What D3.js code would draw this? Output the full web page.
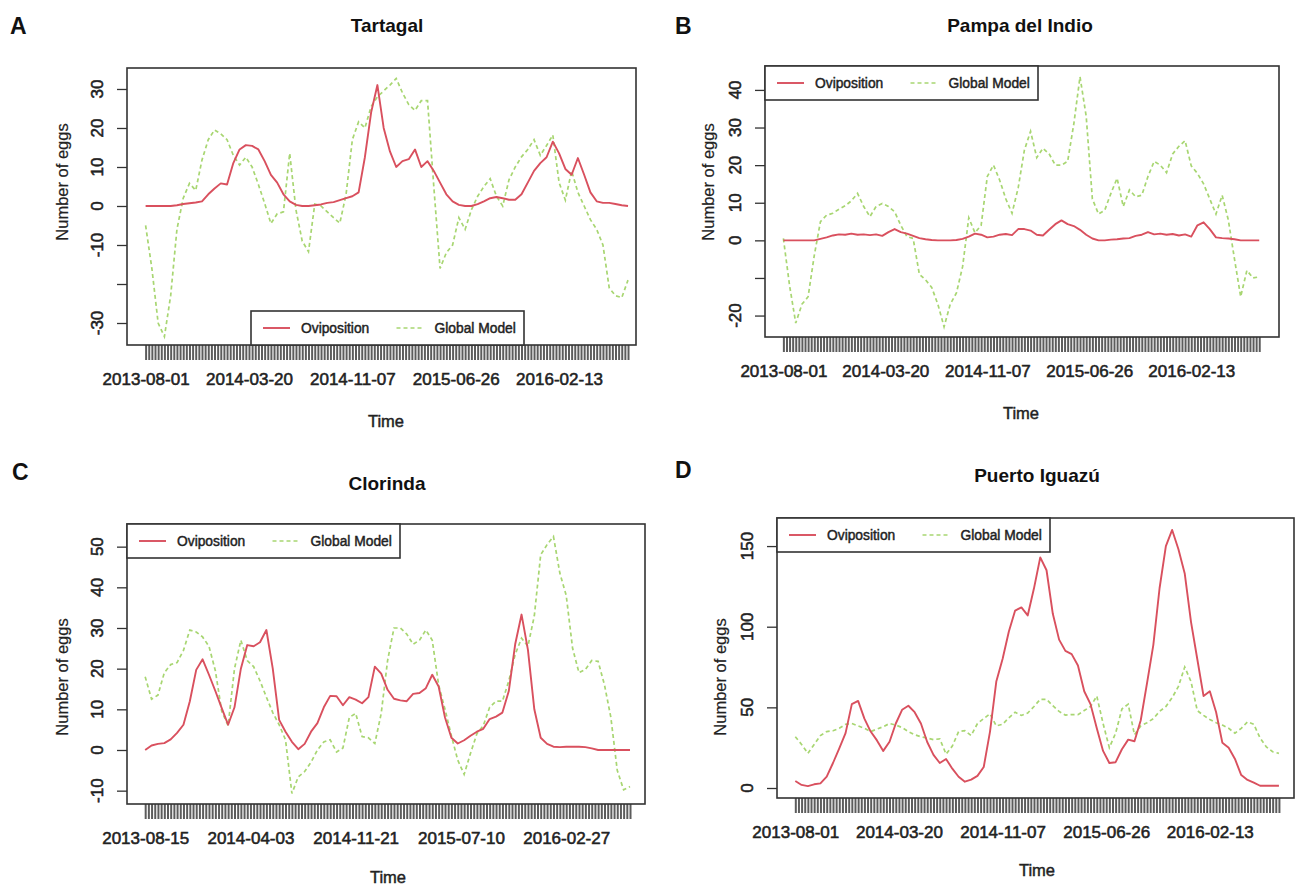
<!DOCTYPE html>
<html><head><meta charset="utf-8">
<script src="https://cdn.jsdelivr.net/npm/d3@7"></script>
<style>
html,body{margin:0;padding:0;background:#fff;}
svg text{font-family:"Liberation Sans",Arial,Helvetica,sans-serif;fill:#222;}
</style>
</head><body>
<svg id="chart" width="1296" height="886"></svg>
<script>
// ---- data (values every 2 weeks, week index = 2*k) ----
const stepWeeks = 2;
const seriesNames = ["Oviposition", "Global Model"];
const ticksAB = ["2013-08-01","2014-03-20","2014-11-07","2015-06-26","2016-02-13"];
const ticksC  = ["2013-08-15","2014-04-03","2014-11-21","2015-07-10","2016-02-27"];
const ticksD  = ["2013-08-01","2014-03-20","2014-11-07","2015-06-26","2016-02-13"];
const tickLabelWeeks = [0, 33, 66, 99, 132];

const tartagalOvi = [0,0,0,0,0,0.2,0.5,0.7,0.9,1.2, 3,4.5,5.8,5.5,11,14.5,15.6,15.4,14.5,11.5,
  8,6,3,1.2,0.3,0,0,0.2,0.4,0.8, 1,1.5,2,2.5,3.5,12.5,24,31,20,14,
  10,11.5,12,14.5,10,11.5,9,6,3,1.2, 0.3,0,0,0.5,1.2,2,2.3,2,1.6,1.6,
  3,6,9,11,12.5,16.5,13.5,9.5,8,12.3, 8,3.5,1.2,0.8,0.8,0.5,0.2,0];
const tartagalGM = [-5,-16,-30,-33.5,-23,-6,2,5.8,4,11.8, 17,19.5,18.5,17,13,10.5,12.5,10,5.5,0.7,
  -4.5,-2,-1.5,13.5,-1,-9,-11.7,0.5,0,-1.5, -3,-4.4,3,17,21.6,20,25.5,28,29.5,31,
  32.7,29,26,24.5,27,27,5,-16,-12,-10, -3,-6,-1,2.5,5,7,2.5,0,6.7,10,
  12.6,14.5,17,13,15.5,18.2,6,1.5,9,3.5, 0,-3.5,-6,-10,-21,-23,-23.5,-19];

const pampaOvi = [0,0,0,0,0,0,0.4,0.8,1.3,1.6, 1.5,1.8,1.5,1.6,1.4,1.6,1.2,2.2,3,2.2,
  1.8,1.2,0.6,0.3,0.1,0,0,0,0.1,0.4, 1,1.8,1.5,0.8,1,1.5,1.7,1.4,3,3,
  2.6,1.5,1.3,2.8,4.3,5.3,4.3,3.8,2.8,1.5, 0.5,0,0,0.2,0.3,0.5,0.6,1.2,1.5,2.2,
  1.6,1.8,1.5,1.7,1.3,1.6,1,4,4.8,3, 0.8,0.6,0.5,0.3,0,0,0,0];
const pampaGM = [0.5,-12,-22,-17,-15,-4,5,6.7,7.2,8.3, 9.2,10.5,12.5,9,6.3,9,9.8,9,7.6,4,
  1,0.5,-9,-10.5,-12.5,-17,-23,-17,-14,-7, 6,2,4,17,20,16,11,7.2,14,24,
  29,22,24.5,23,20,20,21,31,43.5,33, 11,7,8,12.5,16.5,9,13.4,11.6,12,17,
  21,20,18,23,25,26.5,19.8,17.8,15,11, 7,12,5.4,-5,-15,-8,-10,-9.7];

const clorindaOvi = [0,1.1,1.5,1.7,2.6,4.2,6.2,12,19.7,22.3, 18.5,14.5,10.3,6.2,10.5,20,25.8,25.5,26.5,29.5,
  20,7.4,4.5,2,0.2,1.5,4.5,6.6,10.5,13.3, 13.2,11,13,12.4,11.5,13,20.5,18.8,14.8,12.6,
  12.2,12,13.8,14,15.2,18.5,15.6,8,3,1.6, 2.4,3.5,4.5,5.2,7.6,8.2,9.2,14.5,26,33.3,
  24.6,10,3,1.5,0.8,0.7,0.8,0.8,0.8,0.7, 0.4,0,0,0,0,0,0];
const clorindaGM = [18,12.5,13.5,19,21,21.5,24.5,29.5,29,27.8, 25.5,19.5,9.5,6,20,27,22,20.5,17,13,
  9.2,6.2,2.5,-10.7,-6.6,-5.3,-3,0,2,2.5, -0.5,0.5,8,9,3.3,3,1.6,9,22,30,
  30,28.5,26,27,29.5,27,16,10,3.5,-2.5, -6,-0.8,4,6,10.5,12,12,17,23.5,27.5,
  25.5,33,48,50.5,52.5,43.5,38,25,19,19.8, 22,21.8,16,8,-5,-9.8,-9];

const iguazuOvi = [4.3,1.9,1.2,2.3,2.9,7,15.5,24.6,34,52, 54,43,35,29.5,23,28.7,40,48.5,51,47,
  40,28.5,20.5,15.5,18,12,7,3.9,5.2,7.5, 13,35,66,80,97,110,112,107,123.8,143,
  135,108,92,85,83,76,60,52,37,23, 15.5,16,24,30,29,42,65,88.6,124,150,
  160,148,133,103,80,57,60,47,28,25, 18,8,5,3.3,1.4,1.4,1.4,1.4];
const iguazuGM = [31.8,27,21.5,27,32.5,35,35.5,37,39.5,40, 38.5,37,35,36.5,38,40,39,37.5,35,33,
  31.8,31,30,30.5,21,26,35,35.5,32.5,40, 43,46,38.5,39.5,43.5,47,45,46.5,50.5,55,
  55,51,47.5,45.2,45.5,45.5,48,50.5,57,40, 25,34,49,52,33,38.5,40.5,43,47.5,50.5,
  56,63,75,66,48,45,42.5,40.5,39,37, 34,37,41,39.5,31,25.5,22.5,21.5];

const weeksA = 155, weeksB = 155, weeksC = 153, weeksD = 155;
const yTicksA = [-30,-20,-10,0,10,20,30], yHiddenA = [-20];
const yTicksB = [-20,-10,0,10,20,30,40], yHiddenB = [-10];
const yTicksC = [-10,0,10,20,30,40,50], yHiddenC = [];
const yTicksD = [0,50,100,150], yHiddenD = [];

// ---- layout / style ----
const RED = "#d9505e", GREEN = "#a8d672";
const panels = [
  {letter:"A", lx:10, ly:34, title:"Tartagal", tx:387, ty:32,
   box:[127,68,636,345], xd:[-5.94,156.55], yd:[-35.64,35.38],
   ovi:tartagalOvi, gm:tartagalGM, weeks:weeksA, ticks:ticksAB, yt:yTicksA, yh:yHiddenA,
   ylabX:62, ylabY:182, timeX:386, timeY:421, leg:[251,311]},
  {letter:"B", lx:675, ly:34, title:"Pampa del Indio", tx:1020, ty:32,
   box:[765,66,1279,337], xd:[-5.95,160.4], yd:[-25.7,46.36],
   ovi:pampaOvi, gm:pampaGM, weeks:weeksB, ticks:ticksAB, yt:yTicksB, yh:yHiddenB,
   ylabX:708, ylabY:182, timeX:1021, timeY:413, leg:[765,66]},
  {letter:"C", lx:12, ly:480, title:"Clorinda", tx:387, ty:490,
   box:[127,524,645,804], xd:[-5.7,156.7], yd:[-13.28,55.57],
   ovi:clorindaOvi, gm:clorindaGM, weeks:weeksC, ticks:ticksC, yt:yTicksC, yh:yHiddenC,
   ylabX:62, ylabY:677, timeX:388, timeY:877, leg:[127,524]},
  {letter:"D", lx:675, ly:478, title:"Puerto Iguazú", tx:1037, ty:482,
   box:[777,518,1294,798], xd:[-5.83,158.8], yd:[-6.2,167.4],
   ovi:iguazuOvi, gm:iguazuGM, weeks:weeksD, ticks:ticksD, yt:yTicksD, yh:yHiddenD,
   ylabX:720, ylabY:677, timeX:1037, timeY:870, leg:[777,518]}
];

const svg = d3.select("#chart");

panels.forEach(p => {
  const [x0,y0,x1,y1] = p.box;
  const g = svg.append("g");
  const x = d3.scaleLinear().domain(p.xd).range([x0,x1]);
  const y = d3.scaleLinear().domain(p.yd).range([y1,y0]);

  // panel letter & title
  g.append("text").attr("x",p.lx).attr("y",p.ly).attr("font-size",23).attr("font-weight","bold").style("fill","#111").text(p.letter);
  g.append("text").attr("x",p.tx).attr("y",p.ty).attr("text-anchor","middle").attr("font-size",19).attr("font-weight","bold").style("fill","#111").text(p.title);

  // lines
  const line = d3.line().x((d,i)=>x(i*stepWeeks)).y(d=>y(d));
  g.append("path").datum(p.gm).attr("d",line).attr("fill","none")
    .attr("stroke",GREEN).attr("stroke-width",1.7).attr("stroke-dasharray","4,3");
  g.append("path").datum(p.ovi).attr("d",line).attr("fill","none")
    .attr("stroke",RED).attr("stroke-width",1.9).attr("stroke-linejoin","round");

  // x axis: a tick for every week, labels every 33 weeks
  const xAxis = d3.axisBottom(x).tickValues(d3.range(p.weeks)).tickSize(15).tickFormat("");
  const xa = g.append("g").attr("transform",`translate(0,${y1})`).call(xAxis);
  xa.select(".domain").remove();
  xa.selectAll(".tick line").attr("stroke","#5c5c5c").attr("stroke-width",2);
  const xl = d3.axisBottom(x).tickValues(tickLabelWeeks).tickSize(0).tickPadding(0)
    .tickFormat((d,i)=>p.ticks[i]);
  const xla = g.append("g").attr("transform",`translate(0,${y1+28})`).call(xl);
  xla.select(".domain").remove();
  xla.selectAll("text").attr("font-size",17).attr("font-family","Liberation Sans, Arial, sans-serif")
    .style("fill","#222").attr("stroke","#222").attr("stroke-width",0.55).attr("dy","0.71em");

  // y axis
  const yAxis = d3.axisLeft(y).tickValues(p.yt).tickSize(10).tickPadding(0).tickFormat("");
  const ya = g.append("g").attr("transform",`translate(${x0},0)`).call(yAxis);
  ya.select(".domain").remove();
  ya.selectAll(".tick line").attr("stroke","#333").attr("stroke-width",1.3);
  p.yt.forEach(v => {
    if (p.yh.includes(v)) return;
    g.append("text").attr("transform",`translate(${x0-24},${y(v)}) rotate(-90)`)
      .attr("text-anchor","middle").attr("font-size",17).style("fill","#222")
      .attr("stroke","#222").attr("stroke-width",0.55).text(String(v));
  });

  // box
  g.append("rect").attr("x",x0).attr("y",y0).attr("width",x1-x0).attr("height",y1-y0)
    .attr("fill","none").attr("stroke","#333").attr("stroke-width",1.6);

  // axis titles
  g.append("text").attr("transform",`translate(${p.ylabX},${p.ylabY}) rotate(-90)`)
    .attr("text-anchor","middle").attr("dy","0.35em").attr("font-size",16.5).style("fill","#222")
    .attr("stroke","#222").attr("stroke-width",0.2).text("Number of eggs");
  g.append("text").attr("x",p.timeX).attr("y",p.timeY).attr("text-anchor","middle").attr("dy","0.35em")
    .attr("font-size",16.5).style("fill","#222").attr("stroke","#222").attr("stroke-width",0.45).text("Time");

  // legend
  const [lx,ly] = p.leg, lw = 273, lh = 34;
  const lg = g.append("g").attr("transform",`translate(${lx},${ly})`);
  lg.append("rect").attr("width",lw).attr("height",lh).attr("fill","#fff").attr("stroke","#333").attr("stroke-width",1.6);
  const items = [{name:seriesNames[0],col:RED,dash:null,w:1.9},{name:seriesNames[1],col:GREEN,dash:"4,3",w:1.7}];
  items.forEach((it,k) => {
    const ox = k*133.5;
    lg.append("line").attr("x1",ox+12).attr("x2",ox+39).attr("y1",lh/2).attr("y2",lh/2)
      .attr("stroke",it.col).attr("stroke-width",it.w).attr("stroke-dasharray",it.dash);
    lg.append("text").attr("x",ox+50).attr("y",lh/2).attr("dy","0.35em").attr("font-size",13.8)
      .style("fill","#222").attr("stroke","#222").attr("stroke-width",0.45).text(it.name);
  });
});
</script>
</body></html>
